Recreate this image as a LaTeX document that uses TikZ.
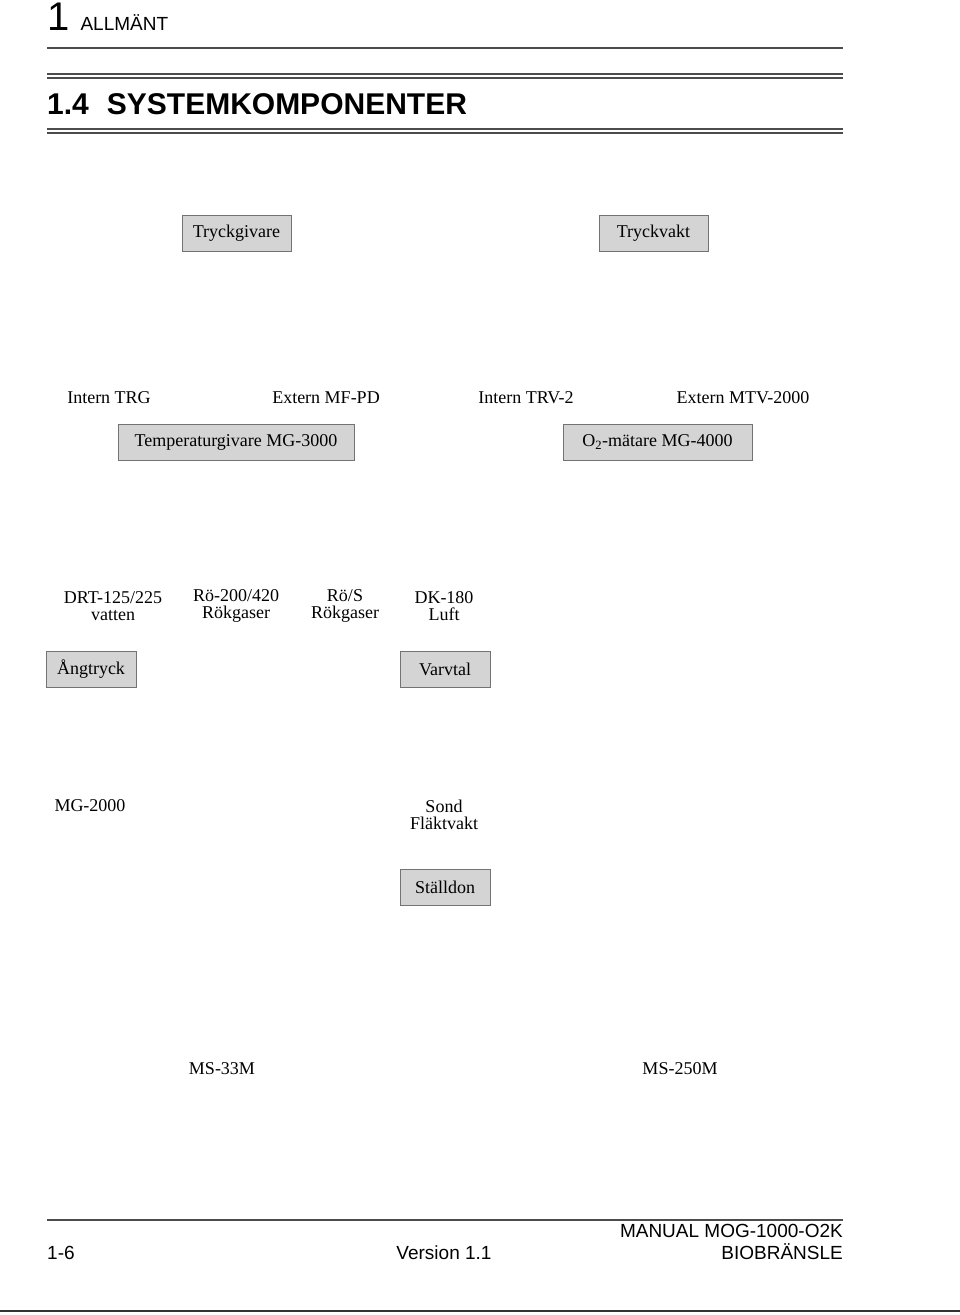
\documentclass[tikz,border=0pt]{standalone}
\usepackage{fontspec}
\setmainfont{Liberation Serif}
\setsansfont{Liberation Sans}
\begin{document}
\begin{tikzpicture}[x=1pt,y=-1pt,
   comp/.style={draw=black!55,fill=black!17,minimum height=36pt,inner xsep=5pt,font=\fontsize{18}{20}\selectfont},
   lbl/.style={font=\fontsize{18}{20}\selectfont,align=center},
   foot/.style={font=\sffamily\fontsize{19}{22}\selectfont},
   rule/.style={draw=black!70,line width=1.2pt}]
\useasboundingbox (0,0) rectangle (960,1315);
% header
\node[anchor=base west,inner sep=0pt] (chap) at (47,30) {\sffamily\fontsize{40}{40}\selectfont 1 \fontsize{19}{20}\selectfont ALLMÄNT};
\draw[rule] (47,48) -- (843,48);
\draw[rule] (47,74) -- (843,74);
\draw[rule] (47,78) -- (843,78);
\node[anchor=base west,inner sep=0pt] (sect) at (47,114) {\sffamily\bfseries\fontsize{30}{30}\selectfont 1.4\hspace{18pt}SYSTEMKOMPONENTER};
\draw[rule] (47,129) -- (843,129);
\draw[rule] (47,133) -- (843,133);
% components
\node[comp,minimum width=109pt] (tgiv) at (236.5,233.5) {Tryckgivare};
\node[comp,minimum width=109pt] (tvakt) at (653.5,233.5) {Tryckvakt};
\node[lbl] (itrg) at (109,398) {Intern TRG};
\node[lbl] (emfpd) at (326,398) {Extern MF-PD};
\node[lbl] (itrv) at (526,398) {Intern TRV-2};
\node[lbl] (emtv) at (743,398) {Extern MTV-2000};
\node[comp,minimum width=236pt] (temp) at (236,442) {Temperaturgivare MG-3000};
\node[comp,minimum width=189pt] (otwo) at (657.5,442) {O\textsubscript{2}-mätare MG-4000};
\node[lbl] (drt) at (113,606) {DRT-125/225\\[-3pt]vatten};
\node[lbl] (rotwo) at (236,606) {Rö-200/420\\[-3pt]Rökgaser};
\node[lbl] (ros) at (345,606) {Rö/S\\[-3pt]Rökgaser};
\node[lbl] (dk) at (444,606) {DK-180\\[-3pt]Luft};
\node[comp,minimum width=90pt] (ang) at (91,669) {Ångtryck};
\node[comp,minimum width=90pt] (varv) at (445,669) {Varvtal};
\node[lbl] (mgtwo) at (90,806) {MG-2000};
\node[lbl] (sond) at (444,815) {Sond\\[-3pt]Fläktvakt};
\node[comp,minimum width=90pt] (stall) at (445,887) {Ställdon};
\node[lbl] (msa) at (222,1069) {MS-33M};
\node[lbl] (msb) at (680,1069) {MS-250M};
% footer
\draw[rule] (47,1220) -- (843,1220);
\node[foot,anchor=base west,inner sep=0pt] (page) at (47,1259) {1-6};
\node[foot,anchor=base] (ver) at (444,1259) {Version 1.1};
\node[foot,anchor=base east,inner sep=0pt,align=right] (man) at (843,1259) {MANUAL MOG-1000-O2K\\BIOBRÄNSLE};
\draw[draw=black!80,line width=2pt] (0,1311) -- (960,1311);
\end{tikzpicture}
\end{document}
